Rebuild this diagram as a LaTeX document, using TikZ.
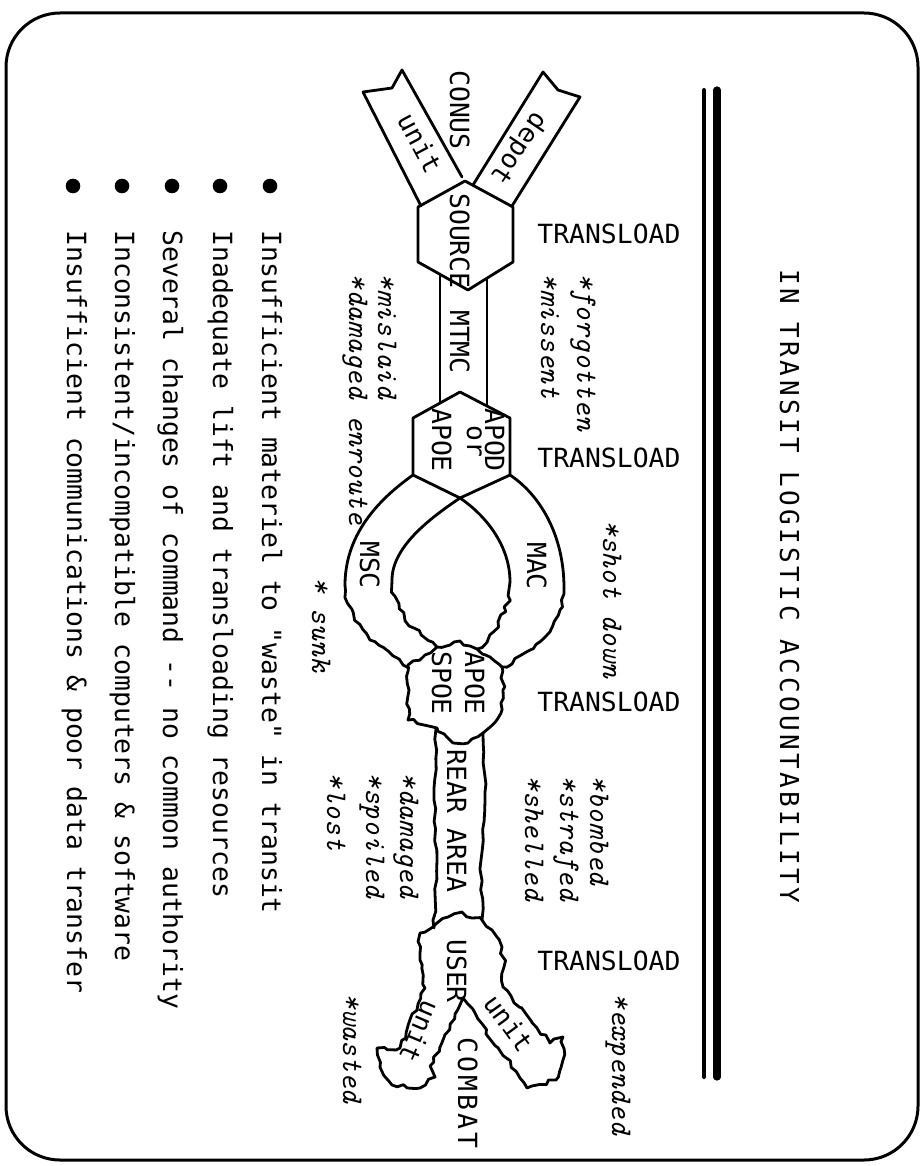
\documentclass[tikz,border=0pt]{standalone}
\usepackage{fontspec}
\newfontfamily\dvm{DejaVu Sans Mono}
\newfontfamily\dvmls{DejaVu Sans Mono}[LetterSpace=13]
\newfontfamily\dvmcb{DejaVu Sans Mono}[LetterSpace=12]
\usetikzlibrary{decorations.pathmorphing}
\pgfmathsetseed{7}
\begin{document}
\begin{tikzpicture}[x=0.5pt,y=-0.5pt,line join=round,line cap=round,
  shp/.style={line width=1.4pt},
  roughdeco/.style={decoration={random steps,segment length=3pt,amplitude=1.1pt}},
  softdeco/.style={decoration={random steps,segment length=5pt,amplitude=0.7pt}},
  lbl/.style={font=\dvm\fontsize{13.2}{16}\selectfont,inner sep=0pt},
  vlbl/.style={lbl,rotate=-90,anchor=base},
  blt/.style={lbl,rotate=-90,anchor=base west},
  ital/.style={font=\ttfamily\itshape\fontsize{15}{17}\selectfont,inner sep=0pt,rotate=-90,anchor=base west},
  dot/.style={circle,fill=black,inner sep=0pt,minimum size=7.3pt},
  rib/.style={lbl,anchor=center}]
\useasboundingbox (0,0) rectangle (922,1166);
% frame
\draw[line width=1.5pt,rounded corners=27pt] (6,13) rectangle (918,1160);
% double rule
\draw[line width=2pt] (704,90) -- (704,1077);
\draw[line width=3.6pt] (717,90) -- (717,1077);
% title
\node[font=\dvmls\fontsize{13}{15}\selectfont,inner sep=0pt,rotate=-90,anchor=base] (title) at (780,586) {IN TRANSIT LOGISTIC ACCOUNTABILITY};
% SOURCE hexagon and ribbons
\draw[shp] (465,181) -- (513,207) -- (513,262) -- (468,290) -- (418,262) -- (418,207) -- cycle;
\draw[shp] (421,206) -- (363,92) -- (392,88) -- (402,70) -- (462,177);
\draw[shp] (473,185) -- (543,72) -- (558,90) -- (580,97) -- (512,206);
% MTMC channel
\draw[shp] (440,274) -- (440,403);
\draw[shp] (487,279) -- (487,406);
% APOD hexagon
\draw[shp] (460,392) -- (510,418) -- (510,475) -- (460,498) -- (413,475) -- (413,418) -- cycle;
% lobes, smooth parts
\draw[shp] (413,475) .. controls (385,495) and (345,530) .. (345,585);
\draw[shp] (460,498) .. controls (435,515) and (392,545) .. (392,580);
\draw[shp] (460,498) .. controls (485,515) and (510,545) .. (510,582);
\draw[shp] (510,475) .. controls (540,495) and (564,535) .. (564,588);
% lobes, rough parts
\draw[shp,decorate,roughdeco] (345,585) .. controls (345,625) and (385,652) .. (409,668);
\draw[shp,decorate,roughdeco] (392,580) .. controls (392,612) and (420,636) .. (437,647);
\draw[shp,decorate,roughdeco] (510,582) .. controls (510,615) and (490,638) .. (477,649);
\draw[shp,decorate,roughdeco] (564,588) .. controls (564,630) and (530,655) .. (502,667);
% APOE/SPOE blob
\draw[shp,decorate,roughdeco] (408,665) -- (425,655) -- (437,647) -- (450,645) -- (460,641) -- (470,646) -- (477,649) -- (490,657) -- (502,667) -- (503,690) -- (501,713) -- (483,733) -- (468,743) -- (453,743) -- (437,728) -- (408,720) -- (409,690) -- cycle;
% rear area channel
\draw[shp,decorate,softdeco] (436,729) -- (434,800) -- (437,860) -- (434,928);
\draw[shp,decorate,softdeco] (483,733) -- (485,800) -- (481,860) -- (482,920);
% USER blob with two ribbons
\draw[shp,decorate,roughdeco] (425,988) -- (420,960) -- (420,933) -- (433,927) -- (448,917) -- (462,912) -- (472,918) -- (482,920) -- (492,930) -- (502,947) -- (504,967) -- (503,987) -- (550,1043) -- (563,1037) -- (563,1060) -- (556,1080) -- (527,1088) -- (520,1078) -- (463,998) -- (430,1066) -- (435,1077) -- (420,1088) -- (392,1085) -- (380,1067) -- (377,1048) -- (400,1048) -- cycle;
% TRANSLOAD labels
\node[lbl,anchor=base west] (tl1) at (537,243) {TRANSLOAD};
\node[lbl,anchor=base west] (tl2) at (537,467) {TRANSLOAD};
\node[lbl,anchor=base west] (tl3) at (537,711) {TRANSLOAD};
\node[lbl,anchor=base west] (tl4) at (537,970) {TRANSLOAD};
% vertical labels
\node[vlbl] (conus) at (450,110) {CONUS};
\node[vlbl] (source) at (450,241) {SOURCE};
\node[vlbl] (mtmc) at (450,342) {MTMC};
\node[vlbl] (apod) at (485,440) {APOD};
\node[vlbl] (or) at (467,441) {or};
\node[vlbl] (apoe) at (432,440) {APOE};
\node[vlbl] (msc) at (360,565) {MSC};
\node[vlbl] (mac) at (527,566) {MAC};
\node[vlbl] (apoeb) at (465,683) {APOE};
\node[vlbl] (spoe) at (432,683) {SPOE};
\node[vlbl] (rear) at (447,821) {REAR AREA};
\node[vlbl] (user) at (447,971) {USER};
\node[font=\dvmcb\fontsize{13.2}{16}\selectfont,inner sep=0pt,rotate=-90,anchor=base] (combat) at (458,1093) {COMBAT};
% ribbon labels
\node[rib,rotate=-62] (unita) at (420,143) {unit};
\node[rib,rotate=-124] (depot) at (518,148) {depot};
\node[rib,rotate=-113] (unitb) at (420,1032) {unit};
\node[rib,rotate=-54] (unitc) at (509,1023) {unit};
% italic remarks
\node[ital] (forgotten) at (577,273) {*forgotten};
\node[ital] (missent) at (541,273) {*missent};
\node[ital] (mislaid) at (378,273) {*mislaid};
\node[ital] (enroute) at (349,273) {*damaged enroute};
\node[ital] (shotdown) at (603,520) {*shot down};
\node[ital] (sunk) at (312,577) {* sunk};
\node[ital] (bombed) at (590,775) {*bombed};
\node[ital] (strafed) at (560,775) {*strafed};
\node[ital] (shelled) at (525,775) {*shelled};
\node[ital] (damaged) at (400,772) {*damaged};
\node[ital] (spoiled) at (366,772) {*spoiled};
\node[ital] (lost) at (327,772) {*lost};
\node[ital] (wasted) at (343,993) {*wasted};
\node[ital] (expended) at (612,993) {*expended};
% bullets
\node[dot] (d1) at (270,186) {};
\node[dot] (d2) at (220,186) {};
\node[dot] (d3) at (172,186) {};
\node[dot] (d4) at (122,186) {};
\node[dot] (d5) at (73,186) {};
\node[blt] (b1) at (262,230) {Insufficient materiel to "waste" in transit};
\node[blt] (b2) at (213,230) {Inadequate lift and transloading resources};
\node[blt] (b3) at (163,230) {Several changes of command -\kern0pt- no common authority};
\node[blt] (b4) at (115,230) {Inconsistent/incompatible computers \& software};
\node[blt] (b5) at (67,230) {Insufficient communications \& poor data transfer};
\end{tikzpicture}
\end{document}
